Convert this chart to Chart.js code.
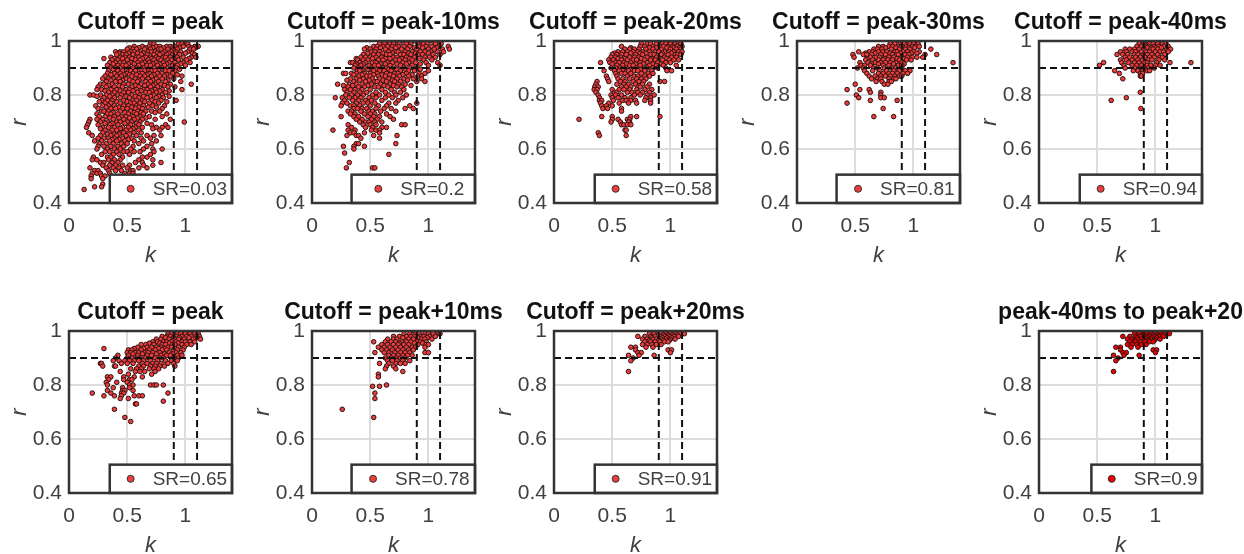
<!DOCTYPE html>
<html>
<head>
<meta charset="utf-8">
<title>Cutoff panels</title>
<script src="https://cdn.jsdelivr.net/npm/chart.js@4"></script>
<style>
html, body { margin: 0; padding: 0; background: #fff; overflow: hidden; }
#wrap { position: relative; width: 1244px; height: 554px; overflow: hidden; }
canvas { position: absolute; }
</style>
</head>
<body>
<div id="wrap"></div>
<script>
// every row is [r, k, k, k ...]
const peakRows = [
  [1.00,.97,1.00,.99],
  [.99,.70,.73,.94,.97,1.01,1.02],
  [.98,.56,.63,.69,.75,.78,.84,.87,.91,.98,1.03,1.08,1.11],
  [.975,.52,.60,.66,.72,.81,.89,.95,1.05,1.09],
  [.97,.50,.55,.58,.65,.70,.77,.79,.85,.90,.93,1.04,1.07],
  [.96,.40,.44,.47,.53,.56,.61,.68,.71,.74,.82,.88,.92,.96,1.02],
  [.955,.43,.51,.59,.64,.76,.80,.86,.91,1.00,1.06],
  [.95,.41,.46,.49,.55,.62,.67,.73,.78,.84,.89,.95,1.08],
  [.94,.36,.44,.48,.52,.58,.60,.66,.70,.75,.81,.83,.87,.93,.98,1.05,1.09],
  [.935,.30,.39,.46,.54,.63,.71,.77,.90,1.03],
  [.93,.37,.42,.50,.57,.61,.68,.73,.79,.85,.88,.94,1.01],
  [.92,.35,.40,.44,.47,.53,.59,.65,.69,.75,.81,.86,.91,.98,1.04],
  [.915,.38,.51,.56,.63,.72,.78,.84,.96],
  [.91,.33,.42,.46,.49,.60,.67,.70,.76,.82,.89,.93,1.00],
  [.90,.36,.40,.44,.52,.55,.58,.64,.73,.80,.85,.92],
  [.895,.38,.48,.62,.68,.77,.88,.95],
  [.89,.34,.42,.46,.53,.57,.65,.71,.74,.83,.86,.91],
  [.88,.33,.39,.44,.50,.55,.60,.63,.69,.76,.80,.89],
  [.875,.36,.47,.52,.58,.67,.73,.84,.93],
  [.87,.31,.41,.45,.54,.61,.65,.71,.78,.82,.87,.97],
  [.86,.29,.34,.38,.43,.49,.57,.63,.68,.75,.80,.90],
  [.855,.36,.46,.52,.60,.72,.85],
  [.85,.32,.40,.44,.55,.59,.66,.70,.77,.83,.96],
  [.84,.27,.30,.37,.47,.51,.62,.68,.74,.79,.87,1.05],
  [.835,.34,.43,.57,.65,.72,.82],
  [.83,.25,.32,.39,.46,.54,.60,.70,.76,.85,.91],
  [.82,.24,.28,.36,.41,.49,.52,.58,.64,.67,.74,.80,.97],
  [.815,.31,.44,.55,.62,.71,.78,.86],
  [.81,.34,.39,.47,.51,.59,.66,.69,.75,.83],
  [.80,.18,.21,.27,.32,.37,.42,.45,.54,.61,.73,.80],
  [.795,.24,.35,.49,.57,.64,.70,.77,.86],
  [.79,.30,.39,.44,.52,.60,.67,.75,.81],
  [.78,.28,.33,.37,.47,.55,.58,.63,.71,.79,.92],
  [.775,.26,.41,.50,.65,.74,.84],
  [.77,.31,.36,.44,.53,.56,.61,.69,.77],
  [.76,.23,.29,.34,.39,.47,.51,.58,.64,.72,.82],
  [.755,.32,.43,.54,.60,.68,.75],
  [.75,.25,.36,.40,.46,.50,.57,.63,.80],
  [.74,.28,.30,.34,.44,.53,.59,.66,.71,.78],
  [.735,.38,.48,.56,.62,.74],
  [.73,.24,.33,.36,.42,.51,.58,.64,.84],
  [.72,.26,.31,.39,.45,.49,.55,.61,.69,.80],
  [.715,.35,.43,.52,.59,.66],
  [.71,.18,.24,.29,.38,.47,.56,.63,.74,.87],
  [.70,.17,.27,.33,.41,.44,.50,.54,.61,.99],
  [.695,.31,.37,.48,.58,.67],
  [.69,.16,.25,.35,.42,.53,.60,.71,.83],
  [.68,.15,.29,.34,.39,.46,.51,.57,.63,.75,.80,.85],
  [.675,.27,.44,.55,.72],
  [.67,.31,.37,.41,.49,.53,.60,.78],
  [.66,.17,.29,.35,.45,.47,.56,.62],
  [.655,.33,.39,.43,.52],
  [.65,.20,.27,.36,.41,.49,.58,.67,.73,.79],
  [.64,.25,.30,.34,.39,.46,.54,.62,.70],
  [.635,.37,.43,.51],
  [.63,.22,.28,.35,.41,.48,.56,.64,.75],
  [.62,.26,.32,.38,.45,.50,.60,.71],
  [.61,.25,.30,.36,.42,.47,.55,.67],
  [.60,.24,.33,.39,.44,.53,.64,.72,.80],
  [.59,.31,.35,.41,.47,.50,.56,.61,.73],
  [.58,.28,.38,.43,.52,.70],
  [.57,.21,.33,.36,.46,.63,.67],
  [.56,.20,.24,.34,.39,.44,.60,.72],
  [.55,.27,.30,.37,.42,.57,.63,.79],
  [.54,.29,.35,.40,.46,.52,.64,.72],
  [.53,.18,.32,.38,.43,.50,.60,.67],
  [.52,.22,.25,.34,.40,.45,.53,.55],
  [.51,.24,.20,.27,.35,.48,.52,.55],
  [.50,.19,.28,.31],
  [.49,.29,.19],
  [.47,.29],
  [.46,.22,.28],
  [.45,.13]
];

const minusTenRows = [
  [1.00,.64,.69,.72,.77,.83,.87,.94,1.01,1.04,1.09],
  [.99,.58,.62,.67,.70,.75,.81,.85,.91,.96,.99,1.06,1.11],
  [.98,.53,.56,.61,.65,.69,.74,.79,.84,.92,.98,1.03,1.09,1.17],
  [.975,.47,.59,.72,.88,.95,1.07],
  [.97,.45,.50,.55,.63,.68,.77,.82,.90,1.00,1.05,1.12,1.18],
  [.96,.51,.54,.58,.66,.71,.74,.80,.86,.93,.97,1.02,1.08,1.13],
  [.955,.48,.61,.69,.83,.89,1.00],
  [.95,.44,.53,.57,.64,.67,.76,.79,.85,.91,.95,1.04,1.10],
  [.94,.42,.46,.50,.55,.60,.70,.73,.81,.88,.97,1.01,1.06],
  [.935,.38,.52,.63,.67,.77,.84,.92],
  [.93,.39,.44,.48,.57,.61,.72,.75,.80,.86,.96,1.03],
  [.92,.33,.35,.41,.46,.52,.55,.65,.69,.78,.83,.89,.98,1.08],
  [.915,.38,.44,.59,.63,.73,.81,.93],
  [.91,.37,.42,.49,.54,.57,.67,.76,.86,1.00,1.10],
  [.90,.36,.40,.45,.51,.61,.64,.70,.79,.84,.90],
  [.895,.43,.48,.55,.66,.73,.80,.93],
  [.89,.39,.41,.53,.58,.62,.68,.76,.83,.88,1.00],
  [.88,.27,.29,.34,.38,.45,.50,.56,.64,.71,.74,.81,.92,.97],
  [.875,.36,.43,.53,.60,.67,.78,.86],
  [.87,.40,.47,.50,.57,.63,.70,.75,.83,.91,.94],
  [.86,.33,.38,.44,.52,.58,.66,.73,.79,.87,.94],
  [.855,.30,.41,.49,.61,.69,.82],
  [.85,.36,.46,.54,.56,.64,.71,.76,.90,.97],
  [.84,.22,.32,.38,.43,.51,.59,.67,.74,.80],
  [.835,.27,.35,.48,.62,.70,.85],
  [.83,.31,.40,.45,.54,.57,.65,.73,.77],
  [.82,.28,.33,.37,.43,.50,.60,.68,.79],
  [.81,.30,.36,.41,.47,.55,.63,.71,.76],
  [.80,.29,.34,.39,.44,.52,.58,.66,.72,.81],
  [.79,.20,.26,.32,.37,.42,.49,.55,.63,.69,.78],
  [.78,.28,.35,.40,.46,.51,.60,.74],
  [.77,.26,.30,.38,.44,.48,.54,.66,.72,.90],
  [.76,.25,.33,.36,.41,.50,.57,.64,.84],
  [.75,.36,.39,.43,.47,.55,.62,.68,.80,.87],
  [.74,.31,.34,.42,.49,.52,.59,.72],
  [.73,.33,.37,.45,.50,.54,.64],
  [.72,.25,.36,.40,.48,.53,.58,.67],
  [.71,.38,.43,.51,.56,.70],
  [.70,.41,.46,.49,.54,.60],
  [.69,.31,.44,.50,.55,.77,.80],
  [.68,.34,.46,.52,.64,.60],
  [.67,.18,.31,.37,.51,.55,.58],
  [.66,.33,.36,.45,.58],
  [.65,.30,.38,.40,.53,.73],
  [.64,.42,.58],
  [.62,.38,.40,.72],
  [.61,.27,.45,.36],
  [.60,.36],
  [.585,.28],
  [.58,.66],
  [.55,.32],
  [.53,.295,.52,.54]
];

const minusTwentyRows = [
  [1.00,.90,.95,.98,1.03,1.05],
  [.99,.75,.80,.83,.88,.93,.96,1.00,1.04,1.07,1.09],
  [.98,.58,.74,.78,.85,.91,.94,.98,1.02,1.06,1.10],
  [.975,.66,.82,.88,.97,1.03,1.08],
  [.97,.61,.65,.69,.73,.79,.85,.92,1.00,1.05,1.09],
  [.96,.55,.59,.63,.68,.72,.76,.82,.87,.90,.95,.99,1.03,1.07,1.10],
  [.955,.52,.66,.74,.79,.93,1.01],
  [.95,.50,.54,.58,.62,.70,.76,.83,.86,.92,.98,1.04,1.06,1.09],
  [.94,.49,.53,.57,.65,.69,.73,.80,.88,.95,1.01,1.05],
  [.935,.55,.61,.75,.84,.91,.97],
  [.93,.47,.51,.58,.63,.68,.71,.78,.83,.87,.93,.99,1.03,1.07],
  [.92,.40,.48,.53,.56,.60,.66,.74,.80,.89,.96,1.00],
  [.915,.50,.62,.70,.77,.85,.92],
  [.91,.54,.59,.65,.68,.74,.82,.88,.94,1.05],
  [.90,.49,.53,.57,.62,.71,.77,.80,.85,.89,.96],
  [.895,.59,.66,.74],
  [.89,.43,.52,.56,.64,.69,.72,.78,.84,.97,1.01],
  [.88,.53,.58,.61,.66,.75,.81,.85],
  [.87,.45,.54,.63,.69,.72,.78,.82],
  [.86,.46,.55,.59,.65,.71,.75,.79],
  [.85,.37,.47,.57,.61,.68,.73,.77,.91,.95],
  [.84,.36,.54,.60,.64,.70,.76,.82],
  [.83,.35,.38,.58,.62,.66,.72,.74,.80],
  [.82,.345,.37,.50,.56,.60,.65,.71,.78,.84],
  [.81,.36,.52,.54,.63,.67,.72,.76,.82],
  [.80,.38,.49,.53,.58,.69,.74,.80,.86],
  [.79,.39,.50,.55,.61,.66,.79,.83],
  [.78,.39,.41,.51,.59,.62,.66,.70,.78,.83],
  [.77,.40,.47,.56,.64,.71,.83],
  [.76,.41,.45,.50],
  [.75,.42,.46,.58],
  [.74,.58],
  [.72,.41,.50,.66,.71,.91],
  [.71,.215,.50,.55,.63,.65],
  [.70,.49,.57,.65,.64],
  [.69,.58,.60,.63,.66],
  [.67,.61,.62],
  [.66,.38],
  [.65,.39,.62]
];

const minusThirtyRows = [
  [1.00,.85,.90,.95,1.00,1.03],
  [.99,.80,.84,.89,.92,.97,1.00,1.04],
  [.98,.70,.74,.79,.82,.87,.90,.94,.99,1.02,1.05],
  [.975,.76,.85,.96,1.01],
  [.97,.66,.69,.73,.81,.88,.93,.97,1.15],
  [.96,.53,.62,.65,.70,.74,.77,.84,.86,.91,.95,1.00,1.05],
  [.955,.59,.67,.80,.89,.98,1.03],
  [.95,.48,.57,.60,.64,.72,.76,.82,.87,.93,.96,1.10,1.20],
  [.94,.49,.63,.68,.71,.79,.83,.90,.95,.99,1.03,1.08],
  [.935,.60,.75,.86,.92],
  [.93,.59,.65,.70,.74,.78,.82,.88,.94,.98],
  [.92,.54,.61,.67,.72,.76,.80,.85,.90,1.34],
  [.915,.64,.70,.83,.92],
  [.91,.55,.58,.63,.74,.79,.87,.90],
  [.90,.52,.57,.66,.69,.75,.81,.85,.90],
  [.89,.58,.65,.71,.77,.83,.88,.93,.97],
  [.88,.60,.70,.74,.79,.82,.86,.91,.95],
  [.87,.62,.67,.72,.76,.80,.84,.88,.90],
  [.86,.64,.69,.72,.79,.83,.85],
  [.85,.68,.73,.79,.81],
  [.84,.50,.75,.78],
  [.82,.43,.54,.62],
  [.81,.63,.72],
  [.80,.51,.72],
  [.79,.53,.72,.75],
  [.78,.63,.86],
  [.77,.43],
  [.75,.74],
  [.72,.66,.83]
];

const minusFortyRows = [
  [1.00,.92,.97,1.02],
  [.99,.86,.90,.95,.98,1.02,1.06,1.09],
  [.98,.84,.88,.91,.94,.99,1.03,1.07,1.11],
  [.975,.93,1.00,1.05],
  [.97,.74,.78,.82,.86,.90,.96,.98,1.02,1.10,1.13],
  [.96,.70,.75,.80,.83,.88,.92,.95,1.00,1.04,1.07,1.11],
  [.95,.67,.72,.76,.82,.85,.90,.93,.97,1.02,1.08],
  [.94,.74,.78,.83,.87,.91,.95,.99,1.04,1.06],
  [.93,.70,.75,.80,.85,.89,.94,.97,1.03,1.08],
  [.92,.555,.71,.77,.82,.86,.91,.93,1.01,1.125,1.305],
  [.91,.52,.73,.80,.84,.88,.93,.96,1.00,1.04],
  [.90,.74,.82,.86,.90,.94,.99],
  [.89,.65,.81,.85,.89,.93,.95],
  [.88,.69,.87,.89],
  [.87,.87,.88],
  [.86,.72],
  [.81,.87],
  [.79,.75],
  [.78,.62],
  [.75,.875]
];

const peakTwoRows = [
  [1.00,.90,.96,1.02,1.06],
  [.99,.85,.88,.93,.96,1.00,1.04,1.08,1.11],
  [.98,.80,.84,.87,.92,.97,1.01,1.05,1.09,1.12],
  [.975,.83,.90,.95,1.03,1.10],
  [.97,.75,.79,.86,.91,.94,.99,1.07,1.13],
  [.96,.72,.76,.81,.84,.88,.92,.97,1.00,1.04,1.08],
  [.955,.69,.78,.86,.94],
  [.95,.62,.66,.73,.80,.83,.89,.91,.97,1.01,1.05],
  [.94,.59,.67,.71,.75,.79,.85,.88,.94,.99],
  [.935,.30,.56,.64,.77,.82],
  [.93,.51,.54,.62,.69,.74,.80,.84,.90,.93,.98],
  [.92,.50,.53,.57,.60,.65,.68,.72,.78,.86,.92,.96],
  [.915,.55,.63,.75,.82,.89],
  [.91,.42,.51,.59,.67,.71,.79,.84,.87,.93,.97],
  [.90,.40,.50,.54,.58,.62,.66,.74,.78,.81,.90,.94],
  [.89,.38,.43,.48,.52,.56,.60,.64,.70,.76,.83,.88,.93],
  [.88,.27,.28,.45,.50,.55,.63,.67,.72,.75,.79,.85,.90],
  [.87,.29,.39,.40,.60,.64,.70,.74,.78,.82,.91],
  [.86,.53,.58,.62,.69,.73,.77],
  [.85,.44,.57,.61,.65,.74],
  [.84,.51,.71],
  [.83,.33,.36,.47,.56,.63],
  [.82,.34,.47,.52,.54],
  [.81,.32,.41,.50],
  [.80,.33,.52,.55,.70,.73,.75,.81],
  [.79,.38,.52,.46],
  [.78,.33,.46,.48,.55],
  [.77,.20,.36,.45,.47,.85],
  [.76,.30,.39,.45,.56,.60,.63],
  [.75,.44,.51],
  [.74,.81],
  [.73,.57,.58],
  [.71,.39],
  [.68,.48],
  [.665,.53]
];

const plusTenRows = [
  [1.00,.85,.92,.98,1.05],
  [.99,.79,.84,.89,.92,.97,1.00,1.04,1.09,1.10],
  [.98,.70,.75,.81,.85,.88,.93,.96,1.01,1.06],
  [.975,.78,.91,.99],
  [.97,.65,.70,.73,.83,.87,.94,.97,1.03],
  [.96,.53,.63,.68,.72,.77,.81,.85,.90,.93,.98],
  [.955,.75,.88,.95],
  [.95,.60,.65,.70,.74,.79,.83,.91,.98,1.00],
  [.94,.57,.62,.67,.72,.76,.81,.86,.89,.97],
  [.93,.60,.64,.69,.74,.78,.83,.87],
  [.92,.54,.62,.66,.71,.76,.80,.84,.97,1.00],
  [.91,.66,.70,.74,.78,.82,.86],
  [.90,.63,.68,.72,.76,.80],
  [.89,.65,.69,.73,.78,.84],
  [.88,.58,.66,.72,.76,.80],
  [.87,.64,.70],
  [.86,.63,.72],
  [.85,.78],
  [.84,.57],
  [.83,.57],
  [.80,.64],
  [.795,.52,.58],
  [.77,.54],
  [.75,.54],
  [.71,.26],
  [.68,.53]
];

// same trials end up in the last panel too
const plusTwentyRows = [
  [1.00,.90,.98,.94,1.02],
  [.99,.82,.86,.92,.96,1.00,1.04,1.08,1.12],
  [.985,.89,.94,.98,1.02,1.06],
  [.98,.72,.78,.83,.87,.91,.95,.99,1.03,1.07],
  [.975,.84,.93,.97,1.01],
  [.97,.76,.80,.85,.88,.92,.96,1.00,1.04],
  [.965,.82,.90,.94,.99],
  [.96,.78,.83,.87,.91,.95,.98],
  [.95,.76,.80,.84,.88,.92],
  [.94,.66,.70,.79,.85],
  [.93,.70,.98,1.01],
  [.92,.72,.75,1.00],
  [.91,.64,.73,.86],
  [.90,.68],
  [.89,.66],
  [.85,.64]
];

const panelRows = [peakRows, minusTenRows, minusTwentyRows, minusThirtyRows, minusFortyRows,
  peakTwoRows, plusTenRows, plusTwentyRows, plusTwentyRows];
const panelTitles = ["Cutoff = peak", "Cutoff = peak-10ms", "Cutoff = peak-20ms", "Cutoff = peak-30ms", "Cutoff = peak-40ms",
  "Cutoff = peak", "Cutoff = peak+10ms", "Cutoff = peak+20ms", "peak-40ms to peak+20"];
const srLabels = ["SR=0.03", "SR=0.2", "SR=0.58", "SR=0.81", "SR=0.94", "SR=0.65", "SR=0.78", "SR=0.91", "SR=0.9"];
const legendStartK = [0.35, 0.34, 0.35, 0.34, 0.35, 0.35, 0.34, 0.35, 0.45];
const pointColors = ["#ee3b3b", "#ee3b3b", "#ee3b3b", "#ee3b3b", "#ee3b3b", "#ee3b3b", "#ee3b3b", "#ee3b3b", "#f00000"];

const kTicks = [0, 0.5, 1];
const rTicks = [0.4, 0.6, 0.8, 1];
const kRange = [0, 1.4];
const rRange = [0.4, 1];
const cutoffK = [0.9, 1.1];
const cutoffR = 0.9;

const panelLeft = [69, 312, 554, 797, 1039, 69, 312, 554, 1039];
const panelTop = [41, 41, 41, 41, 41, 331, 331, 331, 331];

const FONT = "'Liberation Sans', Arial, sans-serif";
const TEXT = "#404040";

function toPoints(rows) {
    let pts = [];
    rows.forEach((row) => {
        row.slice(1).forEach((k) => pts.push({ x: k, y: row[0] }));
    });
    return pts;
}

// frame and the little SR box sit above the points
const framePlugin = {
    id: "frame",
    afterLayout(chart) {
        // right padding is only there to size the plot, keep the title centred on it
        chart.titleBlock.left = 0;
        chart.titleBlock.right = chart.width;
    },
    afterDatasetsDraw(chart, args, opts) {
        const { ctx, chartArea: a, scales } = chart;
        const x0 = scales.x.getPixelForValue(opts.startK);
        const y0 = scales.y.getPixelForValue(0.505);
        ctx.save();
        ctx.fillStyle = "#fff";
        ctx.fillRect(x0, y0, a.right - x0, a.bottom - y0);
        ctx.strokeStyle = "#333";
        ctx.lineWidth = 2.5;
        ctx.strokeRect(x0, y0, a.right - x0, a.bottom - y0);
        ctx.strokeRect(a.left, a.top, a.right - a.left, a.bottom - a.top);

        ctx.font = "19px " + FONT;
        const w = ctx.measureText(opts.label).width;
        const mx = (x0 + a.right) / 2 - (22 + w) / 2 + 8;
        const my = (y0 + a.bottom) / 2;
        ctx.beginPath();
        ctx.arc(mx, my, 3.5, 0, Math.PI * 2);
        ctx.fillStyle = opts.color;
        ctx.fill();
        ctx.lineWidth = 1;
        ctx.strokeStyle = "#333";
        ctx.stroke();
        ctx.fillStyle = TEXT;
        ctx.textBaseline = "middle";
        ctx.textAlign = "left";
        ctx.fillText(opts.label, mx + 22, my + 1);
        ctx.restore();
    }
};

function cutLine(a, b) {
    return {
        type: "line",
        data: [a, b],
        borderColor: "#111",
        borderWidth: 2,
        borderDash: [7, 4],
        pointRadius: 0,
        order: 0
    };
}

const wrap = document.getElementById("wrap");

panelRows.forEach((rows, i) => {
    const canvas = document.createElement("canvas");
    canvas.width = 293;
    canvas.height = 267;
    canvas.style.left = (panelLeft[i] - 65) + "px";
    canvas.style.top = (panelTop[i] - 41) + "px";
    wrap.appendChild(canvas);

    new Chart(canvas.getContext("2d"), {
        type: "scatter",
        plugins: [framePlugin],
        data: {
            datasets: [
                cutLine({ x: kRange[0], y: cutoffR }, { x: kRange[1], y: cutoffR }),
                cutLine({ x: cutoffK[0], y: rRange[0] }, { x: cutoffK[0], y: rRange[1] }),
                cutLine({ x: cutoffK[1], y: rRange[0] }, { x: cutoffK[1], y: rRange[1] }),
                {
                    data: toPoints(rows),
                    backgroundColor: pointColors[i],
                    borderColor: "#2b1212",
                    borderWidth: 1,
                    pointRadius: 2.3,
                    order: 1
                }
            ]
        },
        options: {
            responsive: false,
            animation: false,
            devicePixelRatio: 1,
            layout: { padding: { left: 0, right: 65, top: 0, bottom: 0 } },
            plugins: {
                legend: { display: false },
                tooltip: { enabled: false },
                title: {
                    display: true,
                    text: panelTitles[i],
                    color: "#111",
                    font: { family: FONT, size: 23, weight: "bold", lineHeight: 1.2 },
                    padding: { top: 9, bottom: 4.4 }
                },
                frame: { startK: legendStartK[i], label: srLabels[i], color: pointColors[i] }
            },
            scales: {
                x: {
                    type: "linear",
                    min: kRange[0],
                    max: kRange[1],
                    afterFit(scale) { scale.height = 64; },
                    afterBuildTicks(scale) { scale.ticks = kTicks.map((v) => ({ value: v })); },
                    grid: { color: "#dcdcdc", lineWidth: 2, drawTicks: false },
                    border: { display: false },
                    ticks: {
                        color: TEXT,
                        padding: 11,
                        maxRotation: 0,
                        font: { family: FONT, size: 21 },
                        callback: (v) => String(v)
                    },
                    title: {
                        display: true,
                        text: "k",
                        color: TEXT,
                        padding: 0,
                        font: { family: FONT, size: 22, style: "italic", lineHeight: 1 }
                    }
                },
                y: {
                    type: "linear",
                    min: rRange[0],
                    max: rRange[1],
                    afterFit(scale) { scale.width = 65; },
                    afterBuildTicks(scale) { scale.ticks = rTicks.map((v) => ({ value: v })); },
                    grid: { color: "#dcdcdc", lineWidth: 2, drawTicks: false },
                    border: { display: false },
                    ticks: {
                        color: TEXT,
                        padding: 7,
                        font: { family: FONT, size: 21 },
                        callback: (v) => String(v)
                    },
                    title: {
                        display: true,
                        text: "r",
                        color: TEXT,
                        padding: { top: 5, bottom: 0 },
                        font: { family: FONT, size: 22, style: "italic", lineHeight: 1 }
                    }
                }
            }
        }
    });
});
</script>
</body>
</html>
